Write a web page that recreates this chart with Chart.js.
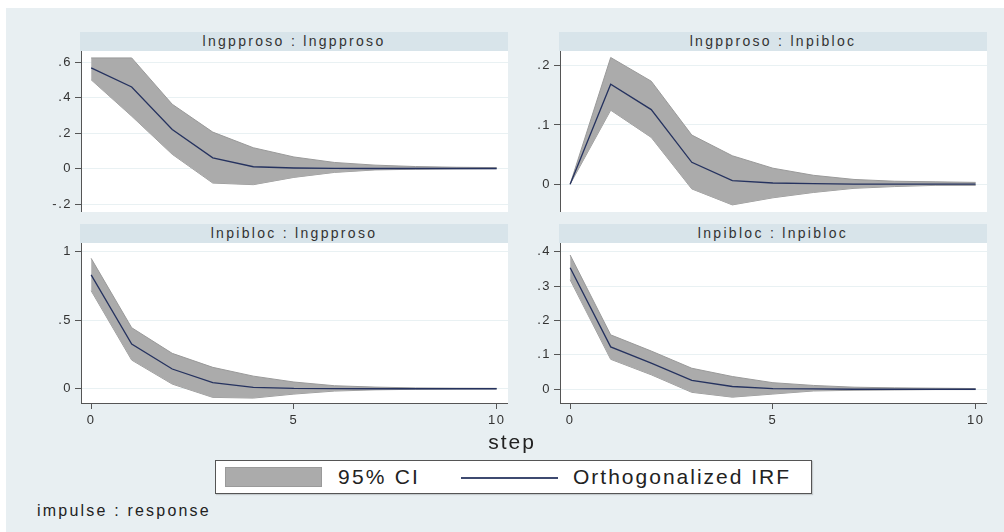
<!DOCTYPE html>
<html>
<head>
<meta charset="utf-8">
<script src="https://cdn.jsdelivr.net/npm/chart.js@4.4.0/dist/chart.umd.min.js"></script>
<style>
  body { margin: 0; width: 1004px; height: 532px; overflow: hidden; position: relative; background: #fff;
         font-family: "Liberation Sans", Arial, sans-serif; }
  #bg { position: absolute; left: 6px; top: 8px; right: 0; bottom: 0; background: #e8eff2; }
  .strip { position: absolute; height: 19px; background: #d8e4ea; color: #333; font-size: 14px;
           line-height: 19px; text-align: center; letter-spacing: 2.3px; white-space: nowrap; }
  canvas { position: absolute; }
  .txt { position: absolute; color: #222; white-space: nowrap; }
  #legend { position: absolute; left: 215px; top: 460px; width: 595px; height: 32px;
            border: 1px solid #555; background: #fff; box-shadow: 1px 1px 1px rgba(0,0,0,0.15); }
</style>
</head>
<body>
<div id="bg"></div>
<div id="panels"></div>

<div class="txt" id="xtitle" style="left:472px;top:430px;width:80px;text-align:center;font-size:21px;letter-spacing:2px;">step</div>

<div id="legend">
  <div style="position:absolute;left:9px;top:6px;width:95px;height:18px;background:#ababab;border:1px solid #9a9a9a;"></div>
  <div class="txt" style="left:122px;top:4px;font-size:21px;line-height:24px;letter-spacing:2.2px;">95% CI</div>
  <div style="position:absolute;left:245px;top:16px;width:97px;height:1.5px;background:#3e4a70;"></div>
  <div class="txt" style="left:357px;top:4px;font-size:21px;line-height:24px;letter-spacing:2px;">Orthogonalized IRF</div>
</div>

<div class="txt" style="left:37px;top:502px;font-size:16px;line-height:18px;letter-spacing:2.2px;">impulse : response</div>

<script>
// steps of the impulse response
var steps = [0, 1, 2, 3, 4, 5, 6, 7, 8, 9, 10];

// lngpproso : lngpproso
var irf1   = [0.567, 0.459, 0.22, 0.06, 0.01, 0.003, 0.001, 0, 0, 0, 0];
var upper1 = [0.623, 0.623, 0.362, 0.205, 0.117, 0.065, 0.034, 0.019, 0.011, 0.007, 0.005];
var lower1 = [0.5, 0.295, 0.08, -0.082, -0.091, -0.05, -0.022, -0.008, -0.004, -0.002, -0.001];

// lngpproso : lnpibloc
var irf2   = [0, 0.169, 0.126, 0.037, 0.006, 0.002, 0.001, 0, 0, 0, 0];
var upper2 = [0, 0.214, 0.174, 0.083, 0.048, 0.027, 0.015, 0.008, 0.005, 0.004, 0.003];
var lower2 = [0, 0.125, 0.079, -0.008, -0.035, -0.023, -0.014, -0.007, -0.004, -0.002, -0.002];

// lnpibloc : lngpproso
var irf3   = [0.83, 0.326, 0.144, 0.044, 0.01, 0.002, 0.001, 0, 0, 0, 0];
var upper3 = [0.951, 0.445, 0.258, 0.156, 0.092, 0.049, 0.022, 0.012, 0.006, 0.004, 0.003];
var lower3 = [0.715, 0.209, 0.034, -0.063, -0.068, -0.039, -0.017, -0.008, -0.004, -0.002, -0.001];

// lnpibloc : lnpibloc
var irf4   = [0.353, 0.123, 0.076, 0.026, 0.008, 0.002, 0.001, 0, 0, 0, 0];
var upper4 = [0.39, 0.158, 0.111, 0.061, 0.037, 0.019, 0.011, 0.006, 0.004, 0.003, 0.002];
var lower4 = [0.318, 0.087, 0.042, -0.009, -0.023, -0.014, -0.005, -0.003, -0.002, -0.001, -0.001];

// tick labels
var yTicks1 = [-0.2, 0, 0.2, 0.4, 0.6];
var yTicks2 = [0, 0.1, 0.2];
var yTicks3 = [0, 0.5, 1];
var yTicks4 = [0, 0.1, 0.2, 0.3, 0.4];
var xTicks = [0, 5, 10];

// axis ranges
var yRange1 = [-0.245, 0.662];
var yRange2 = [-0.047, 0.225];
var yRange3 = [-0.104, 1.063];
var yRange4 = [-0.04, 0.425];
var xRange = [-0.25, 10.28];

var titles = ["lngpproso : lngpproso", "lngpproso : lnpibloc", "lnpibloc : lngpproso", "lnpibloc : lnpibloc"];

var panels = [
  { title: titles[0], irf: irf1, upper: upper1, lower: lower1, ticks: yTicks1, range: yRange1, left: 81, top: 51, w: 427, h: 161, xaxis: false },
  { title: titles[1], irf: irf2, upper: upper2, lower: lower2, ticks: yTicks2, range: yRange2, left: 560, top: 51, w: 427, h: 161, xaxis: false },
  { title: titles[2], irf: irf3, upper: upper3, lower: lower3, ticks: yTicks3, range: yRange3, left: 81, top: 243, w: 427, h: 160, xaxis: true },
  { title: titles[3], irf: irf4, upper: upper4, lower: lower4, ticks: yTicks4, range: yRange4, left: 560, top: 243, w: 427, h: 160, xaxis: true },
];

var AXIS_W = 60;
var XAXIS_H = 32;

function fmt(v) {
  return Number(v.toFixed(3)).toString().replace(/^(-?)0\./, "$1.");
}

function pts(arr) {
  return steps.map(function (s, i) { return { x: s, y: arr[i] }; });
}

// white plot region + slightly spaced tick text
var plotBg = {
  id: "plotBg",
  beforeDraw: function (chart) {
    var a = chart.chartArea, ctx = chart.ctx;
    ctx.save();
    ctx.fillStyle = "#ffffff";
    ctx.fillRect(a.left, a.top, a.right - a.left, a.bottom - a.top);
    ctx.restore();
    ctx.letterSpacing = "1.5px";
  }
};

var host = document.getElementById("panels");

panels.forEach(function (p) {
  // title strip
  var strip = document.createElement("div");
  strip.className = "strip";
  strip.style.left = (p.left - 1) + "px";
  strip.style.top = (p.top - 19) + "px";
  strip.style.width = (p.w + 1) + "px";
  strip.textContent = p.title;
  host.appendChild(strip);

  var cv = document.createElement("canvas");
  var cw = p.w + AXIS_W, ch = p.h + (p.xaxis ? XAXIS_H : 0);
  cv.width = cw; cv.height = ch;
  cv.style.left = (p.left - AXIS_W) + "px";
  cv.style.top = p.top + "px";
  cv.style.width = cw + "px"; cv.style.height = ch + "px";
  host.appendChild(cv);

  new Chart(cv.getContext("2d"), {
    type: "line",
    data: {
      datasets: [
        { label: "95% CI", data: pts(p.upper), fill: "+1", backgroundColor: "#ababab",
          borderColor: "#9a9a9a", borderWidth: 1, pointRadius: 0, order: 1 },
        { label: "lower", data: pts(p.lower), fill: false,
          borderColor: "#9a9a9a", borderWidth: 1, pointRadius: 0, order: 1 },
        { label: "Orthogonalized IRF", data: pts(p.irf), fill: false,
          borderColor: "#25325f", borderWidth: 1.3, pointRadius: 0, order: 0 },
      ],
    },
    options: {
      responsive: false,
      animation: false,
      devicePixelRatio: 1,
      layout: { padding: 0 },
      plugins: { legend: { display: false }, tooltip: { enabled: false } },
      scales: {
        x: {
          type: "linear",
          min: xRange[0],
          max: xRange[1],
          display: p.xaxis,
          afterBuildTicks: function (s) { s.ticks = xTicks.map(function (v) { return { value: v }; }); },
          afterFit: function (s) {
            s.height = p.xaxis ? XAXIS_H : 0;
            s.paddingLeft = 0; s.paddingRight = 0;
          },
          grid: { drawOnChartArea: false, tickLength: 6, tickColor: "#555" },
          border: { color: "#555", width: 1 },
          ticks: { color: "#333", font: { family: "Liberation Sans", size: 13 }, padding: 4,
                   maxRotation: 0, callback: function (v) { return String(v); } },
        },
        y: {
          min: p.range[0],
          max: p.range[1],
          afterBuildTicks: function (s) { s.ticks = p.ticks.map(function (v) { return { value: v }; }); },
          afterFit: function (s) { s.width = AXIS_W; s.paddingTop = 0; s.paddingBottom = 0; },
          grid: { color: "#e9f1f3", tickLength: 6, tickColor: "#555" },
          border: { color: "#555", width: 1 },
          ticks: { color: "#333", font: { family: "Liberation Sans", size: 13 }, padding: 3,
                   callback: function (v) { return fmt(v); } },
        },
      },
    },
    plugins: [plotBg],
  });
});
</script>
</body>
</html>
